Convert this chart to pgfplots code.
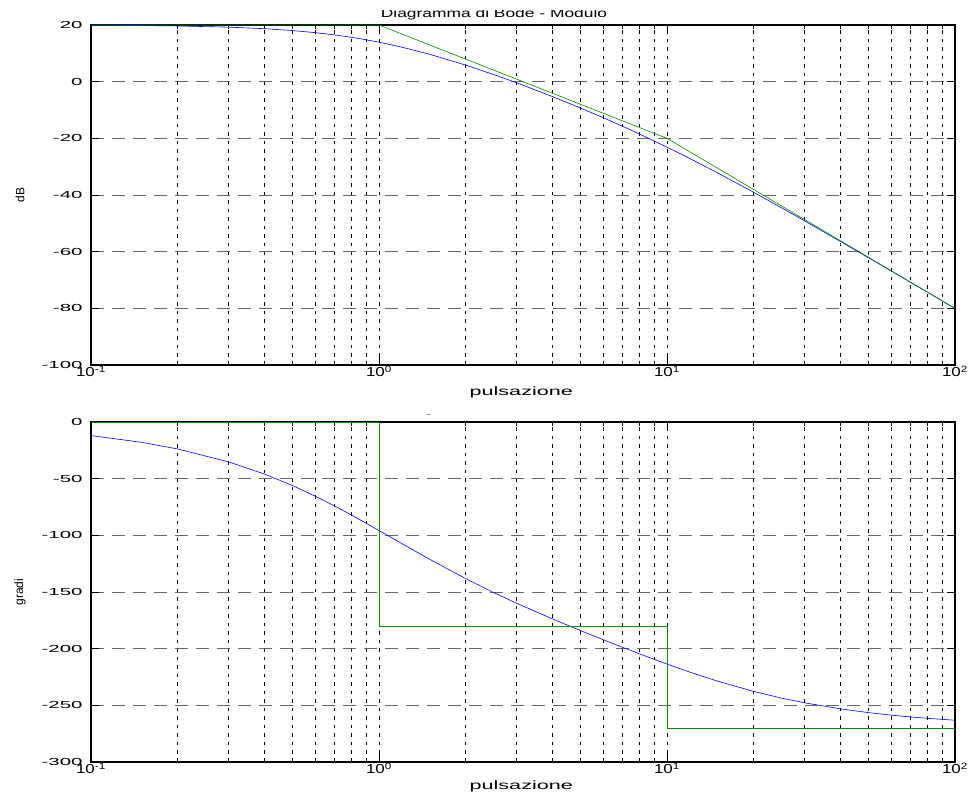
\documentclass[border=0pt]{standalone}
\usepackage{pgfplots}
\pgfplotsset{compat=1.18}
\usepackage{fontspec}
\setmainfont{Liberation Sans}
\newfontfamily\ytickfont{Liberation Sans}[FakeStretch=2.0]
\newfontfamily\xtickfont{Liberation Sans}[FakeStretch=1.3]
\newfontfamily\labfont{Liberation Sans}[FakeStretch=1.8]
\newfontfamily\titfont{Liberation Sans}[FakeStretch=1.45]
\definecolor{asgreen}{RGB}{0,140,0}

\pgfplotsset{every axis/.append style={
  scale only axis, width=864pt, height=340pt,
  xmin=0.1, xmax=100, clip=false,
  axis line style={black, line width=1.1pt},
  tick align=inside, major tick length=8pt, minor tick length=4pt,
  tick style={black, line width=0.6pt},
  xtick={0.1,1,10,100},
  xticklabels={10\textsuperscript{-1},10\textsuperscript{0},10\textsuperscript{1},10\textsuperscript{2}},
  xticklabel style={font=\fontsize{13}{14}\xtickfont, inner sep=1pt},
  yticklabel style={font=\fontsize{10.2}{12}\ytickfont, xshift=-5pt},
  xmajorgrids, xminorgrids, ymajorgrids,
  major x grid style={black, dash pattern=on 3.5pt off 5pt, line width=0.6pt},
  minor x grid style={black, dash pattern=on 3.5pt off 5pt, line width=0.6pt},
  major y grid style={black!60, dash pattern=on 13pt off 8pt, line width=0.6pt},
  xlabel style={font=\fontsize{12}{14}\labfont, anchor=center},
  ylabel style={font=\fontsize{12}{13}\selectfont, anchor=center},
}}

\begin{document}
\begin{tikzpicture}
% titolo modulo (tagliato in alto come nell'originale)
\begin{scope}
\clip (0,-10.5pt) rectangle (969pt,-24pt);
\node[anchor=base, inner sep=0pt, font=\fontsize{12}{14}\titfont] at (494pt,-17pt) {Diagramma di Bode - Modulo};
\end{scope}
% titolo fase (se ne vede solo la coda della g)
\begin{scope}
\clip (0,-414pt) rectangle (969pt,-421pt);
\node[anchor=base, inner sep=0pt, font=\fontsize{12}{14}\titfont] at (502pt,-412pt) {Diagramma di Bode - Fase};
\end{scope}

\begin{axis}[xmode=log,
  at={(91pt,-25pt)}, anchor=north west,
  ymin=-100, ymax=20,
  ytick={-100,-80,-60,-40,-20,0,20},
  yticklabels={-100,-80,-60,-40,-20,0,20},
  xlabel={pulsazione},
  xlabel style={at={(axis description cs:0.498,-0.082)}},
  ylabel={dB},
  ylabel style={at={(axis description cs:-0.082,0.5)}},
]
\addplot[blue, line width=0.6pt] coordinates {
(0.1,19.91)(0.15,19.81)(0.2,19.66)(0.3,19.25)(0.4,18.70)(0.5,18.05)(0.6,17.31)
(0.7,16.51)(0.8,15.68)(0.9,14.81)(1,13.94)(1.2,12.19)(1.5,9.67)(2,5.85)(2.5,2.53)
(3,-0.37)(4,-5.25)(5,-9.27)(6,-12.70)(7,-15.71)(8,-18.41)(10,-23.10)(12,-27.10)
(15,-32.20)(20,-39.05)(25,-44.53)(30,-49.09)(40,-56.39)(50,-62.11)(60,-66.81)
(70,-70.80)(80,-74.25)(100,-80.04)};
\addplot[asgreen, line width=0.6pt] coordinates {(0.1,20)(1,20)(10,-20)(100,-80)};
\end{axis}

\begin{axis}[xmode=log,
  at={(91pt,-422pt)}, anchor=north west,
  ymin=-300, ymax=0,
  ytick={-300,-250,-200,-150,-100,-50,0},
  yticklabels={-300,-250,-200,-150,-100,-50,0},
  xlabel={pulsazione},
  xlabel style={at={(axis description cs:0.498,-0.072)}},
  ylabel={gradi},
  ylabel style={at={(axis description cs:-0.082,0.5)}},
]
\addplot[blue, line width=0.6pt] coordinates {
(0.1,-11.99)(0.15,-17.92)(0.2,-23.77)(0.3,-35.12)(0.4,-45.89)(0.5,-55.99)(0.6,-65.36)
(0.7,-73.98)(0.8,-81.90)(0.9,-89.11)(1,-95.71)(1.2,-107.23)(1.5,-121.15)(2,-138.18)
(2.5,-150.44)(3,-159.83)(4,-173.73)(5,-183.95)(6,-192.04)(7,-198.73)(8,-204.41)
(10,-213.58)(12,-220.67)(15,-228.68)(20,-237.71)(25,-243.62)(30,-247.75)(40,-253.10)
(50,-256.40)(60,-258.63)(70,-260.23)(80,-261.44)(100,-263.14)};
\addplot[asgreen, line width=0.6pt] coordinates {(0.1,0)(1,0)(1,-180)(10,-180)(10,-270)(100,-270)};
\end{axis}
\pgfresetboundingbox
\useasboundingbox (0,0) rectangle (969pt,-796pt);
\end{tikzpicture}
\end{document}
